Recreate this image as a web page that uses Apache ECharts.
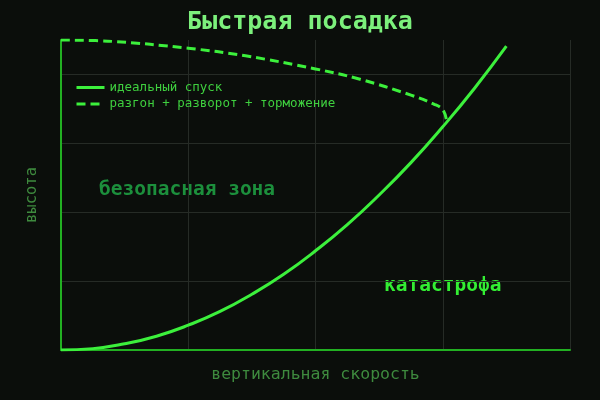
<!DOCTYPE html>
<html>
<head>
<meta charset="utf-8">
<script src="https://cdn.jsdelivr.net/npm/echarts@6/dist/echarts.min.js"></script>
<style>
  html, body { margin: 0; padding: 0; background: #0b0e0b; }
  #chart { width: 600px; height: 400px; }
</style>
</head>
<body>
<div id="chart"></div>
<script>
// ideal descent: vertical speed -> height
const idealSpeed = [0, 0.25, 0.5, 0.75, 1, 1.25, 1.5, 1.75, 2, 2.25, 2.5, 2.75, 3, 3.25, 3.5];
const idealHeight = [0, 0.02, 0.09, 0.2, 0.36, 0.56, 0.81, 1.1, 1.44, 1.82, 2.25, 2.72, 3.24, 3.8, 4.41];

// accelerate + flip + brake
const flipSpeed = [0, 0.4, 1, 1.45, 2, 2.35, 2.75, 2.93, 3.0, 3.03];
const flipHeight = [4.5, 4.48, 4.38, 4.27, 4.08, 3.93, 3.7, 3.57, 3.49, 3.33];

const seriesNames = ['идеальный спуск', 'разгон + разворот + торможение'];

const mono = 'DejaVu Sans Mono';
const chart = echarts.init(document.getElementById('chart'), null, { renderer: 'canvas' });

const option = {
  backgroundColor: '#0b0e0b',
  animation: false,
  textStyle: { fontFamily: mono },
  title: {
    text: 'Быстрая посадка',
    left: 'center',
    top: 5,
    textStyle: { color: '#7cf07c', fontSize: 25, fontWeight: 'bold', fontFamily: mono }
  },
  legend: {
    orient: 'vertical',
    left: 75,
    top: 81,
    padding: 0,
    itemWidth: 28,
    itemHeight: 12,
    itemGap: 3.5,
    itemStyle: { opacity: 0 },
    lineStyle: { width: 3 },
    data: seriesNames,
    textStyle: { color: '#3fd03f', fontSize: 12.5, fontFamily: mono, lineHeight: 12 }
  },
  grid: { left: 61, right: 30, top: 40, bottom: 50 },
  xAxis: {
    type: 'value',
    min: 0,
    max: 4,
    interval: 1,
    name: 'вертикальная скорость',
    nameLocation: 'middle',
    nameGap: 16,
    nameTextStyle: { color: '#3e8a3e', fontSize: 16.5, fontFamily: mono },
    axisLine: { lineStyle: { color: '#22b022', width: 2 } },
    axisTick: { show: false },
    axisLabel: { show: false },
    splitLine: { lineStyle: { color: '#262b26', width: 1 } }
  },
  yAxis: {
    type: 'value',
    min: 0,
    max: 4.5,
    interval: 1,
    name: 'высота',
    nameLocation: 'middle',
    nameGap: 21,
    nameTextStyle: { color: '#3e8a3e', fontSize: 15.5, fontFamily: mono },
    axisLine: { show: true, lineStyle: { color: '#22b022', width: 2 } },
    axisTick: { show: false },
    axisLabel: { show: false },
    splitLine: {
      lineStyle: {
        color: ['#262b26', '#262b26', '#262b26', '#262b26', '#262b26', 'rgba(0,0,0,0)'],
        width: 1
      }
    }
  },
  graphic: [
    {
      type: 'text',
      left: 99,
      top: 180,
      style: { text: 'безопасная зона', fill: '#1c8f3c', font: 'bold 19.5px "DejaVu Sans Mono"' }
    },
    {
      type: 'text',
      left: 384,
      top: 276,
      style: { text: 'катастрофа', fill: '#33ee33', font: 'bold 19.5px "DejaVu Sans Mono"' }
    }
  ],
  series: [
    {
      name: seriesNames[0],
      type: 'line',
      smooth: true,
      symbol: 'none',
      data: idealSpeed.map((s, i) => [s, idealHeight[i]]),
      lineStyle: { color: '#3cf03c', width: 3 },
      itemStyle: { color: '#3cf03c' }
    },
    {
      name: seriesNames[1],
      type: 'line',
      smooth: 0.4,
      symbol: 'none',
      data: flipSpeed.map((s, i) => [s, flipHeight[i]]),
      lineStyle: { color: '#3cf03c', width: 3, type: [9, 5] },
      itemStyle: { color: '#3cf03c' }
    }
  ]
};

chart.setOption(option);
</script>
</body>
</html>
